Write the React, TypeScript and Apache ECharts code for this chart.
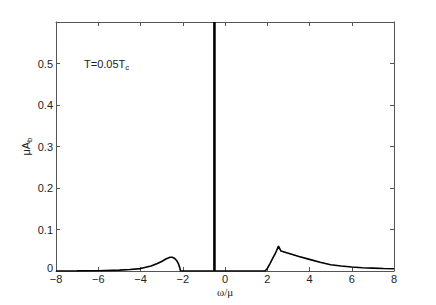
import React, { useEffect, useRef } from "react";
import * as echarts from "echarts";

const curveX = [-8, -7, -6, -5, -4.5, -4, -3.5, -3.2, -3, -2.8, -2.6, -2.5, -2.4, -2.3, -2.2, -2.15, -2.1,
  1.9, 2.0, 2.13, 2.25, 2.37, 2.45, 2.53, 2.65, 3.0, 3.5, 4, 4.5, 5, 5.5, 6, 6.5, 7, 7.5, 8];
const curveY = [0, 0.0002, 0.0005, 0.002, 0.0035, 0.0058, 0.012, 0.018, 0.023, 0.029, 0.033, 0.033, 0.031, 0.026, 0.017, 0.009, 0,
  0, 0.006, 0.018, 0.03, 0.041, 0.05, 0.06, 0.048, 0.043, 0.035, 0.028, 0.021, 0.015, 0.012, 0.0095, 0.008, 0.007, 0.006, 0.0055];
const deltaX = [-0.5, -0.5];
const deltaY = [0, 0.6];
const xTicks = [-8, -6, -4, -2, 0, 2, 4, 6, 8];
const yTicks = [0, 0.1, 0.2, 0.3, 0.4, 0.5];

export default function App() {
  const ref = useRef<HTMLDivElement>(null);
  useEffect(() => {
    const chart = echarts.init(ref.current!, undefined, { renderer: "svg" });
    const axisLine = { show: true, onZero: false, lineStyle: { color: "#555", width: 1 } };
    const tick = { show: true, inside: true, length: 4, lineStyle: { color: "#555" } };
    const lbl = { color: "#222", fontFamily: "Liberation Sans", fontSize: 11 };
    chart.setOption({
      animation: false,
      grid: { left: 56, right: 42, top: 22, bottom: 34 },
      xAxis: [
        {
          type: "value", min: -8, max: 8, interval: 2, position: "bottom",
          axisLine, axisTick: tick, splitLine: { show: false },
          axisLabel: { ...lbl, margin: 2, formatter: (v: number) => (xTicks.includes(v) ? (v < 0 ? "\u2212" + Math.abs(v) : String(v)) : "") },
          name: "ω/μ", nameLocation: "middle", nameGap: 15, nameMoveOverlap: false,
          nameTextStyle: { color: "#222", fontFamily: "Liberation Serif", fontSize: 11 },
        },
        {
          type: "value", min: -8, max: 8, interval: 2, position: "top",
          axisLine, axisTick: tick, axisLabel: { show: false }, splitLine: { show: false },
        },
      ],
      yAxis: [
        {
          type: "value", min: 0, max: 0.6, interval: 0.1, position: "left",
          axisLine, axisTick: tick, splitLine: { show: false },
          axisLabel: {
            ...lbl, margin: 3,
            formatter: (v: number) => {
              const t = yTicks.find((k) => Math.abs(k - v) < 1e-6);
              if (t === undefined) return "";
              return t === 0 ? "{z|0}" : String(t);
            },
            rich: { z: { color: "#222", fontFamily: "Liberation Sans", fontSize: 11, padding: [0, 0, 7, 0] } },
          },
          name: "{m|μA}{s|b}", nameLocation: "middle", nameGap: 23, nameRotate: 90, nameMoveOverlap: false,
          nameTextStyle: {
            rich: {
              m: { color: "#222", fontFamily: "Liberation Sans", fontSize: 11 },
              s: { color: "#222", fontFamily: "Liberation Sans", fontSize: 8, verticalAlign: "bottom", padding: [6, 0, 0, 0] },
            },
          },
        },
        {
          type: "value", min: 0, max: 0.6, interval: 0.1, position: "right",
          axisLine, axisTick: tick, axisLabel: { show: false }, splitLine: { show: false },
        },
      ],
      graphic: [
        {
          type: "text", left: 84, top: 58,
          style: {
            text: "{m|T=0.05T}{s|c}",
            rich: {
              m: { fill: "#222", fontFamily: "Liberation Sans", fontSize: 11 },
              s: { fill: "#222", fontFamily: "Liberation Sans", fontSize: 8, padding: [8, 0, 0, 0] },
            },
          },
        },
      ],
      series: [
        {
          type: "line", xAxisIndex: 0, yAxisIndex: 0, showSymbol: false, symbol: "none",
          lineStyle: { color: "#000", width: 1.6 },
          data: curveX.map((x, i) => [x, curveY[i]]),
        },
        {
          type: "line", xAxisIndex: 0, yAxisIndex: 0, showSymbol: false, symbol: "none",
          lineStyle: { color: "#000", width: 2.6 },
          data: deltaX.map((x, i) => [x, deltaY[i]]),
        },
      ],
    });
    return () => chart.dispose();
  }, []);
  return <div ref={ref} style={{ width: 436, height: 305, position: "absolute", left: 0, top: 0 }} />;
}
